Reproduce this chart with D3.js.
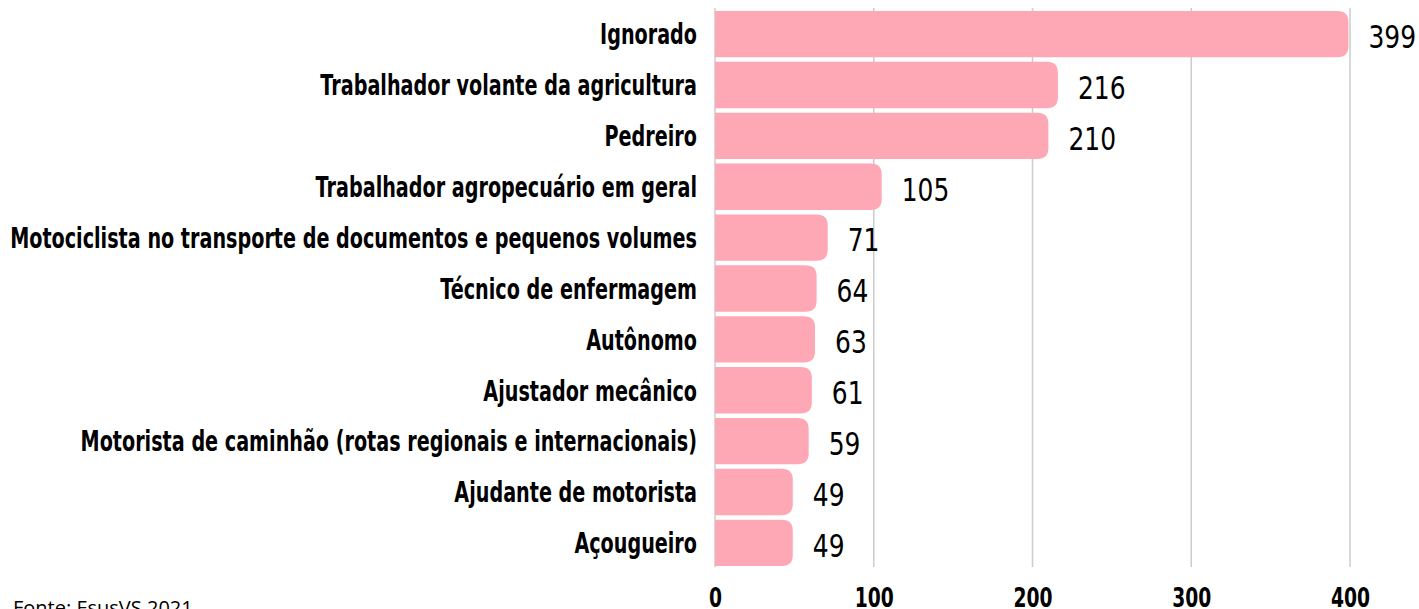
<!DOCTYPE html>
<html><head><meta charset="utf-8">
<script src="https://cdn.jsdelivr.net/npm/d3@7"></script>
<style>
html,body{margin:0;padding:0;background:#fff;}
svg{display:block;}
</style>
</head><body>
<svg id="chart" width="1419" height="609"></svg>
<script>
const categories = [
  "Ignorado",
  "Trabalhador volante da agricultura",
  "Pedreiro",
  "Trabalhador agropecuário em geral",
  "Motociclista no transporte de documentos e pequenos volumes",
  "Técnico de enfermagem",
  "Autônomo",
  "Ajustador mecânico",
  "Motorista de caminhão (rotas regionais e internacionais)",
  "Ajudante de motorista",
  "Açougueiro"
];
const values = [399, 216, 210, 105, 71, 64, 63, 61, 59, 49, 49];
const tickValues = [0, 100, 200, 300, 400];
const sourceText = "Fonte: EsusVS 2021";

const svg = d3.select("#chart");
const FONT = "'DejaVu Sans', sans-serif";

const x = d3.scaleLinear().domain([0, 400]).range([715, 1350]);
const y = d3.scaleBand().domain(categories).range([11, 566]).paddingInner(0.09).paddingOuter(0.0);

// gridlines
svg.append("g").selectAll("line").data(tickValues).join("line")
  .attr("x1", d => x(d)).attr("x2", d => x(d))
  .attr("y1", 8).attr("y2", 567)
  .attr("stroke", "#cccccc").attr("stroke-width", 1.5);

// bars with right-rounded corners
const r = 11;
svg.append("g").selectAll("path").data(values).join("path")
  .attr("fill", "#ffa8b5")
  .attr("d", (d, i) => {
    const x0 = x(0), x1 = x(d), y0 = y(categories[i]), h = y.bandwidth();
    return `M${x0},${y0}H${x1 - r}Q${x1},${y0} ${x1},${y0 + r}V${y0 + h - r}Q${x1},${y0 + h} ${x1 - r},${y0 + h}H${x0}Z`;
  });

// category labels (condensed via horizontal scale)
const catG = svg.append("g");
const cats = catG.selectAll("text").data(categories).join("text")
  .attr("x", 0).attr("y", 0)
  .attr("dy", "0.355em")
  .attr("text-anchor", "end")
  .attr("font-family", FONT)
  .attr("font-weight", "bold")
  .attr("font-size", 29)
  .attr("fill", "#000")
  .text(d => d);
let maxW = 0;
cats.each(function() { maxW = Math.max(maxW, this.getComputedTextLength()); });
const catScale = maxW > 0 ? 687 / maxW : 0.74;
cats.attr("transform", d => `translate(697,${y(d) + y.bandwidth() / 2}) scale(${catScale},1)`);

// value labels
svg.append("g").selectAll("text").data(values).join("text")
  .attr("x", 0).attr("y", 0)
  .attr("dy", "0.43em")
  .attr("transform", (d, i) => `translate(${x(d) + 20},${y(categories[i]) + y.bandwidth() / 2}) scale(0.78,1)`)
  .attr("font-family", FONT)
  .attr("font-size", 32)
  .attr("fill", "#000")
  .text(d => d);

// x axis
const axis = d3.axisBottom(x).tickValues(tickValues).tickSize(0).tickPadding(0);
const gx = svg.append("g").attr("transform", "translate(0,588.5)").call(axis);
gx.select(".domain").remove();
gx.selectAll("text")
  .attr("dy", "0.71em")
  .attr("transform", "scale(0.72,1)")
  .attr("font-family", FONT)
  .attr("font-weight", "bold")
  .attr("font-size", 26)
  .attr("fill", "#000");

// source
svg.append("text")
  .attr("x", 13).attr("y", 615)
  .attr("font-family", "'Open Sans', sans-serif")
  .attr("font-size", 20)
  .attr("fill", "#000")
  .text(sourceText);
</script>
</body></html>
